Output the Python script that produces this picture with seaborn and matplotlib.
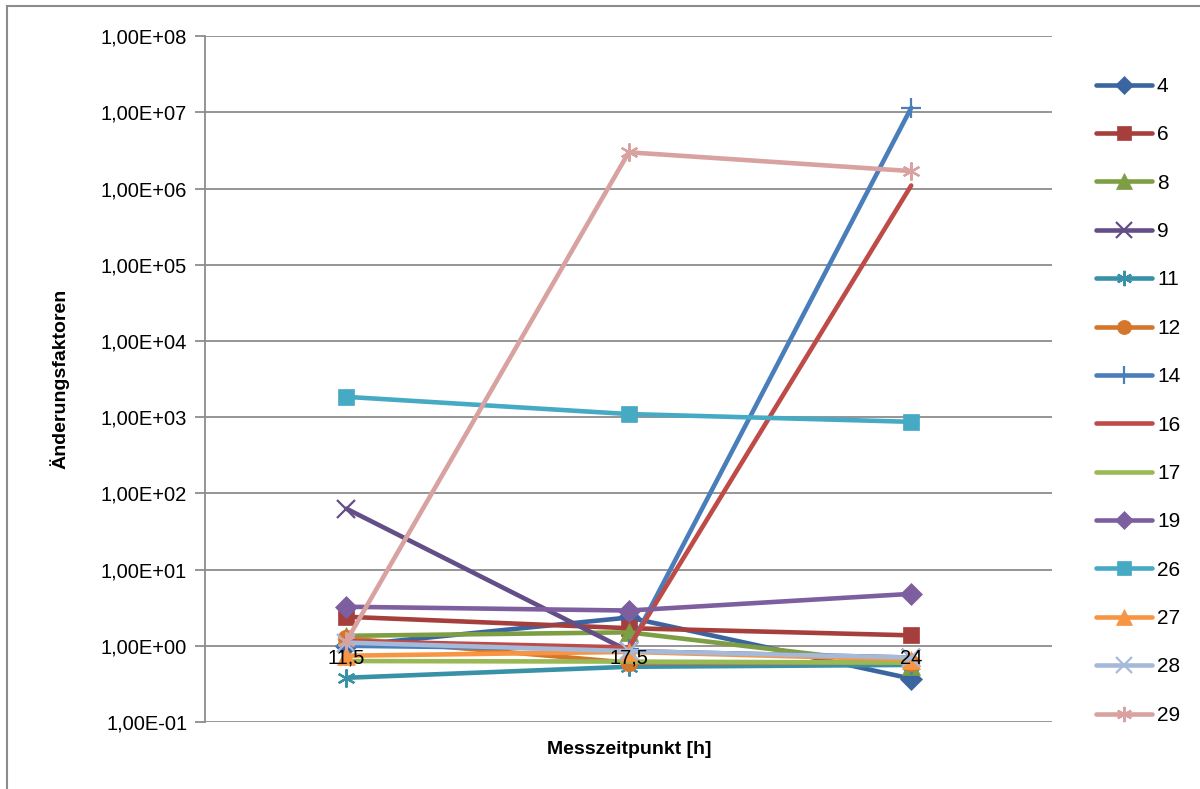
import numpy as np
import pandas as pd
import matplotlib
matplotlib.use("Agg")
import matplotlib.pyplot as plt
from matplotlib.ticker import FuncFormatter, FixedLocator
from matplotlib.patches import Rectangle
import seaborn as sns

# Measurement times (category axis) and change factors per sample
zeitpunkte = ["11,5", "17,5", "24"]

s4 = [1.0, 2.35, 0.37]
s6 = [2.4, 1.7, 1.37]
s8 = [1.35, 1.5, 0.55]
s9 = [63.0, 0.85, 0.7]
s11 = [0.38, 0.53, 0.56]
s12 = [1.25, 0.6, 0.6]
s14 = [1.0, 0.9, 1.15e7]
s16 = [1.15, 0.95, 1.1e6]
s17 = [0.63, 0.62, 0.6]
s19 = [3.25, 2.9, 4.8]
s26 = [1850.0, 1100.0, 870.0]
s27 = [0.74, 0.83, 0.66]
s28 = [1.1, 0.85, 0.7]
s29 = [1.15, 3.0e6, 1.7e6]

serien = ["4", "6", "8", "9", "11", "12", "14", "16", "17", "19", "26", "27", "28", "29"]
werte = [s4, s6, s8, s9, s11, s12, s14, s16, s17, s19, s26, s27, s28, s29]

farben = {
    "4": "#3A65A0", "6": "#A63F3C", "8": "#7E9E44", "9": "#644E87",
    "11": "#3891A7", "12": "#D4772C", "14": "#4A7EBB", "16": "#BE4B48",
    "17": "#98B954", "19": "#7D5FA0", "26": "#46AAC5", "27": "#F79545",
    "28": "#A5B9D9", "29": "#D8A2A1",
}
marker = {
    "4": "D", "6": "s", "8": "^", "9": "x", "11": (6, 2, 0), "12": "o",
    "14": "+", "16": None, "17": None, "19": "D", "26": "s", "27": "^",
    "28": "x", "29": (6, 2, 0),
}
msize = {"D": 11, "s": 12, "^": 13, "x": 13, "o": 12, "+": 15}

rows = []
for name, vals in zip(serien, werte):
    for t, v in zip(zeitpunkte, vals):
        rows.append({"Messzeitpunkt": t, "Wert": v, "Serie": name})
df = pd.DataFrame(rows)

sns.set_theme(style="white")
plt.rcParams["font.family"] = ["Liberation Sans", "DejaVu Sans"]
plt.rcParams["text.color"] = "black"
plt.rcParams["axes.labelcolor"] = "black"
plt.rcParams["xtick.color"] = "black"
plt.rcParams["ytick.color"] = "black"

fig = plt.figure(figsize=(12, 7.89), dpi=100)
ax = fig.add_axes([0.171, 0.085, 0.706, 0.869])

for i, name in enumerate(serien):
    m = marker[name]
    sub = df[df["Serie"] == name]
    key = m if isinstance(m, str) else "x"
    line_marker = m is not None and ((not isinstance(m, str)) or m in ("x", "+"))
    kw = dict(
        marker=m if m is not None else "",
        markersize=msize.get(key, 13) if m is not None else 0,
        markeredgewidth=1.6 if line_marker else 0.5,
        markeredgecolor=farben[name],
        markerfacecolor=farben[name],
    )
    sns.lineplot(data=sub, x="Messzeitpunkt", y="Wert", ax=ax, color=farben[name],
                 linewidth=3.3, sort=False, label=name, zorder=3 + i,
                 solid_capstyle="round", **kw)

ax.set_yscale("log")
ax.set_ylim(0.1, 1e8)
ax.set_xlim(-0.5, 2.5)
ax.yaxis.set_major_locator(FixedLocator([10.0 ** k for k in range(-1, 9)]))
ax.yaxis.set_minor_locator(FixedLocator([]))
ax.yaxis.set_major_formatter(FuncFormatter(lambda v, p: f"{v:.2E}".replace(".", ",")))
ax.grid(axis="y", color="#8C8C8C", linewidth=1.3)
ax.grid(axis="x", visible=False)
ax.set_axisbelow(True)

for sp in ["top", "right"]:
    ax.spines[sp].set_visible(False)
ax.spines["left"].set_color("#8C8C8C")
ax.spines["left"].set_linewidth(1.3)
# horizontal axis crosses at 1
ax.spines["bottom"].set_position(("data", 1.0))
ax.spines["bottom"].set_visible(False)
ax.xaxis.set_zorder(30)

ax.tick_params(axis="y", direction="out", length=7, width=1.3, color="#8C8C8C",
               labelsize=14.5, labelcolor="black", pad=6, left=True)
ax.tick_params(axis="x", length=0, labelsize=14.5, labelcolor="black", pad=2)

ax.set_xlabel("Messzeitpunkt [h]", fontsize=14, fontweight="bold", color="black")
ax.xaxis.set_label_coords(0.5, -0.028)
ax.set_ylabel("Änderungsfaktoren", fontsize=14, fontweight="bold", color="black")
ax.yaxis.set_label_coords(-0.16, 0.5)

leg = ax.legend(loc="upper left", bbox_to_anchor=(0.906, 0.913), bbox_transform=fig.transFigure,
                frameon=False, fontsize=15, handlelength=2.7, handletextpad=0.25,
                labelspacing=1.41, borderaxespad=0, markerscale=0.85)
for t in leg.get_texts():
    t.set_color("black")

fig.patches.append(Rectangle((0.006, -0.01), 1.1, 1.003, transform=fig.transFigure,
                             fill=False, edgecolor="#8C8C8C", linewidth=1.5))

fig.savefig("out.png", dpi=100)
